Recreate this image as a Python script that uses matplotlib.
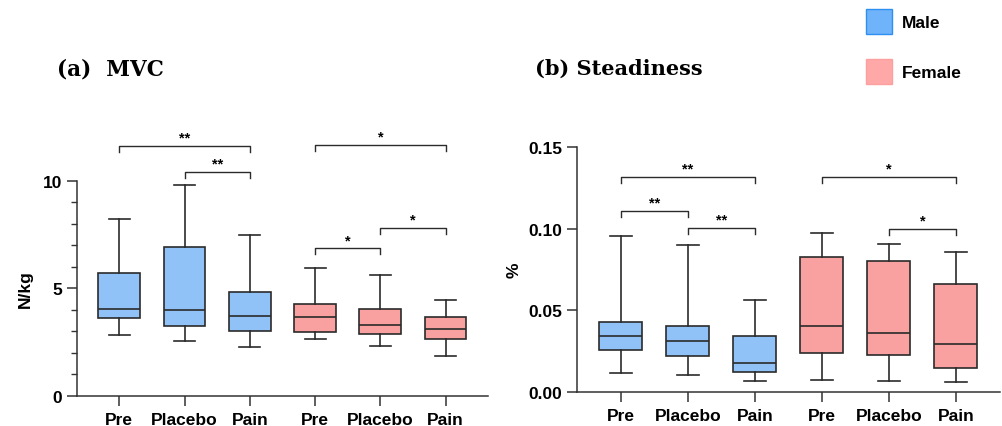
import matplotlib
matplotlib.use("Agg")
import matplotlib.pyplot as plt
from matplotlib.patches import Patch

plt.rcParams['font.family'] = ['Liberation Sans', 'DejaVu Sans']

conditions = ['Pre', 'Placebo', 'Pain', 'Pre', 'Placebo', 'Pain']
groups = ['Male', 'Male', 'Male', 'Female', 'Female', 'Female']

# MVC (N/kg): whisker low, Q1, median, Q3, whisker high
mvc_low = [2.82, 2.56, 2.28, 2.62, 2.31, 1.84]
mvc_q1 = [3.61, 3.26, 3.02, 2.98, 2.85, 2.64]
mvc_med = [4.05, 3.97, 3.71, 3.66, 3.30, 3.12]
mvc_q3 = [5.69, 6.93, 4.84, 4.28, 4.05, 3.66]
mvc_high = [8.22, 9.81, 7.49, 5.94, 5.61, 4.45]

# Steadiness (%)
std_low = [0.0113, 0.0102, 0.0065, 0.0070, 0.0063, 0.0059]
std_q1 = [0.0254, 0.0221, 0.0123, 0.0237, 0.0225, 0.0143]
std_med = [0.0344, 0.0313, 0.0176, 0.0401, 0.0362, 0.0291]
std_q3 = [0.0430, 0.0403, 0.0342, 0.0825, 0.0800, 0.0659]
std_high = [0.0956, 0.0900, 0.0563, 0.0976, 0.0909, 0.0857]

# significance brackets: (from, to, height, label)
mvc_sig = [(1, 3, 11.63, '**'), (2, 3, 10.42, '**'), (4, 6, 11.67, '*'),
           (4, 5, 6.85, '*'), (5, 6, 7.80, '*')]
std_sig = [(1, 3, 0.1318, '**'), (1, 2, 0.1111, '**'), (2, 3, 0.1007, '**'),
           (4, 6, 0.1318, '*'), (5, 6, 0.0999, '*')]

colors = {'Male': '#90c2f8', 'Female': '#f9a1a1'}
edge = '#2b2b2b'


def draw_boxes(ax, low, q1, med, q3, high):
    stats = []
    for i in range(len(conditions)):
        stats.append(dict(whislo=low[i], q1=q1[i], med=med[i], q3=q3[i], whishi=high[i], fliers=[]))
    positions = list(range(1, len(conditions) + 1))
    lw = 1.2
    bp = ax.bxp(stats, positions=positions, widths=0.64, patch_artist=True, showfliers=False,
                boxprops=dict(edgecolor=edge, linewidth=lw),
                medianprops=dict(color=edge, linewidth=lw),
                whiskerprops=dict(color=edge, linewidth=lw),
                capprops=dict(color=edge, linewidth=lw))
    for patch, g in zip(bp['boxes'], groups):
        patch.set_facecolor(colors[g])
    ax.set_xticks(positions)
    ax.set_xticklabels(conditions, fontsize=12.5, fontweight='bold')


def draw_brackets(ax, sig, drop):
    for a, b, y, label in sig:
        ax.plot([a, a, b, b], [y - drop, y, y, y - drop], color=edge, linewidth=1.0)
        ax.annotate(label, ((a + b) / 2, y), xytext=(0, 1), textcoords='offset points',
                    ha='center', va='bottom', fontsize=10.5, fontweight='bold')


def style_axis(ax):
    for side in ['top', 'right']:
        ax.spines[side].set_visible(False)
    for side in ['left', 'bottom']:
        ax.spines[side].set_linewidth(1.1)
        ax.spines[side].set_color('#333333')
    ax.tick_params(axis='both', which='major', length=7, width=1.1, color='#333333')
    ax.tick_params(axis='y', labelsize=12.5)
    ax.tick_params(axis='x', pad=5)
    for lab in ax.get_yticklabels():
        lab.set_fontweight('bold')


fig = plt.figure(figsize=(10.02, 4.27), dpi=100)

ax1 = fig.add_axes([0.0768, 0.071, 0.4102, 0.6294])
draw_boxes(ax1, mvc_low, mvc_q1, mvc_med, mvc_q3, mvc_high)
draw_brackets(ax1, mvc_sig, 0.28)
ax1.set_xlim(0.35, 6.65)
ax1.set_ylim(0, 12.5)
ax1.set_yticks([0, 5, 10])
ax1.set_yticks(range(0, 11), minor=True)
ax1.spines['left'].set_bounds(0, 10)
style_axis(ax1)
ax1.tick_params(axis='y', which='minor', length=4, width=1.0, color='#333333')
ax1.set_ylabel('N/kg', fontsize=12.5, fontweight='bold')
ax1.yaxis.set_label_coords(-0.108, 0.4)

ax2 = fig.add_axes([0.5756, 0.0803, 0.4225, 0.5724])
draw_boxes(ax2, std_low, std_q1, std_med, std_q3, std_high)
draw_brackets(ax2, std_sig, 0.0039)
ax2.set_xlim(0.343, 6.66)
ax2.set_ylim(0, 0.15)
ax2.set_yticks([0, 0.05, 0.10, 0.15])
ax2.set_yticklabels(['0.00', '0.05', '0.10', '0.15'])
style_axis(ax2)
ax2.set_ylabel('%', fontsize=12.5, fontweight='bold')
ax2.yaxis.set_label_coords(-0.13, 0.5)

fig.text(0.057, 0.838, '(a)  MVC', family='DejaVu Serif', fontweight='bold', fontsize=15.5, va='center')
fig.text(0.534, 0.840, '(b) Steadiness', family='DejaVu Serif', fontweight='bold', fontsize=15, va='center')

handles = [Patch(facecolor='#6fb3fb', edgecolor='#2f8ff0', label='Male'),
           Patch(facecolor='#fea9a8', edgecolor='#fe9f9f', label='Female')]
fig.legend(handles=handles, loc='upper left', bbox_to_anchor=(0.849, 1.014), frameon=False,
           handlelength=1.5, handleheight=1.9, labelspacing=1.4, handletextpad=0.55,
           prop={'weight': 'bold', 'size': 12.5})

fig.savefig('out.png', dpi=100)
